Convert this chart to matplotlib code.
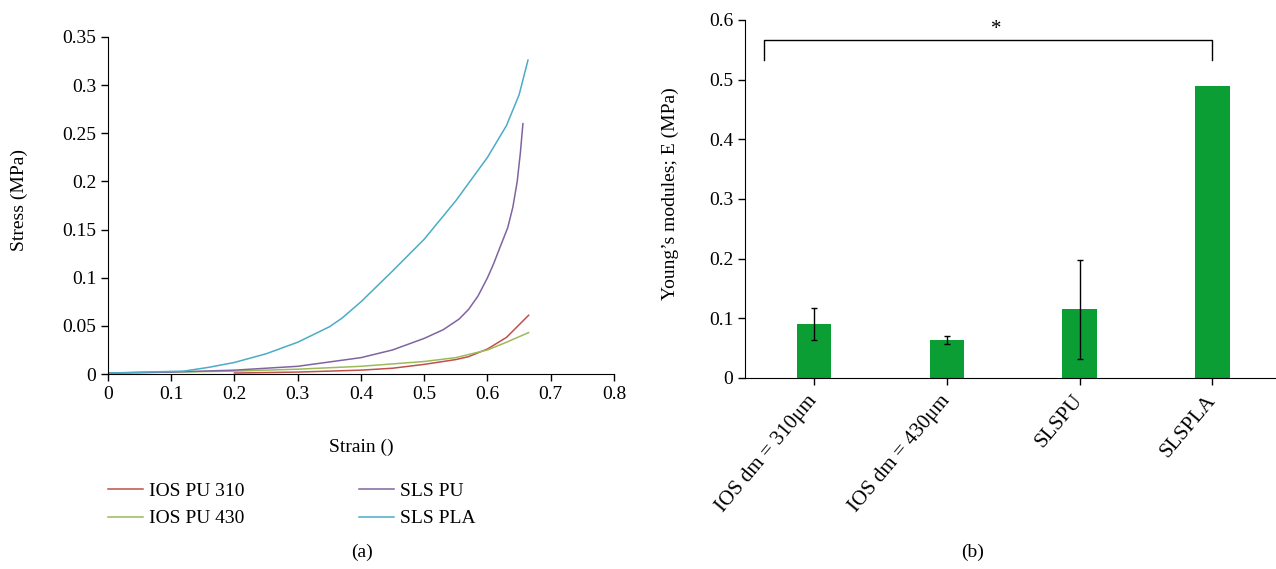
import numpy as np
import matplotlib
matplotlib.use("Agg")
import matplotlib.pyplot as plt

plt.rcParams["font.family"] = ["Liberation Serif", "DejaVu Serif"]
plt.rcParams["font.size"] = 14

# (a) stress-strain curves
pla_x = [0.0, 0.12, 0.16, 0.2, 0.25, 0.3, 0.35, 0.37, 0.4, 0.45, 0.5, 0.55, 0.6, 0.63, 0.65, 0.664]
pla_y = [0.001, 0.003, 0.007, 0.012, 0.021, 0.033, 0.049, 0.058, 0.075, 0.107, 0.140, 0.180,
         0.225, 0.258, 0.290, 0.326]
pu_x = [0.0, 0.1, 0.2, 0.3, 0.4, 0.45, 0.5, 0.53, 0.555, 0.57, 0.585, 0.6, 0.61, 0.62, 0.632, 0.64,
        0.647, 0.652, 0.656]
pu_y = [0.001, 0.002, 0.004, 0.008, 0.017, 0.025, 0.037, 0.046, 0.057, 0.067, 0.081, 0.100, 0.115,
        0.132, 0.152, 0.173, 0.200, 0.230, 0.260]
ios310_x = [0.2, 0.3, 0.4, 0.45, 0.5, 0.55, 0.57, 0.6, 0.63, 0.665]
ios310_y = [0.001, 0.002, 0.004, 0.006, 0.010, 0.015, 0.018, 0.026, 0.038, 0.061]
ios430_x = [0.0, 0.1, 0.2, 0.3, 0.4, 0.5, 0.55, 0.6, 0.63, 0.665]
ios430_y = [0.001, 0.002, 0.003, 0.005, 0.008, 0.013, 0.017, 0.025, 0.033, 0.043]

# (b) Young's modulus bars
groups = ["IOS dm = 310μm", "IOS dm = 430μm", "SLSPU", "SLSPLA"]
modulus = [0.091, 0.064, 0.115, 0.490]
modulus_err = [0.027, 0.007, 0.083, 0.0]

fig = plt.figure(figsize=(12.76, 5.69), dpi=100)

ax1 = fig.add_axes([0.0846, 0.3427, 0.3966, 0.5923])
ax1.plot(ios310_x, ios310_y, color="#C0504D", lw=1.1, label="IOS PU 310")
ax1.plot(ios430_x, ios430_y, color="#9BBB59", lw=1.1, label="IOS PU 430")
ax1.plot(pu_x, pu_y, color="#8064A2", lw=1.1, label="SLS PU")
ax1.plot(pla_x, pla_y, color="#4BACC6", lw=1.1, label="SLS PLA")
ax1.set_xlim(0, 0.8)
ax1.set_ylim(0, 0.35)
ax1.set_xticks(np.arange(0, 0.81, 0.1))
ax1.set_xticklabels(["0", "0.1", "0.2", "0.3", "0.4", "0.5", "0.6", "0.7", "0.8"])
ax1.set_yticks(np.arange(0, 0.351, 0.05))
ax1.set_yticklabels(["0", "0.05", "0.1", "0.15", "0.2", "0.25", "0.3", "0.35"])
ax1.spines[["top", "right"]].set_visible(False)
ax1.tick_params(direction="out", length=5, width=1)
ax1.set_xlabel("Strain ()", va="center")
ax1.xaxis.set_label_coords(0.5, -0.217)
ax1.set_ylabel("Stress (MPa)", va="center")
ax1.yaxis.set_label_coords(-0.175, 0.516)
h, l = ax1.get_legend_handles_labels()
ax1.legend(h, l, ncol=2, frameon=False, loc="upper left", bbox_to_anchor=(0.0, -0.322),
           borderpad=0, borderaxespad=0, handlelength=1.8, handletextpad=0.3,
           columnspacing=5.9, labelspacing=0.5, fontsize=14)
fig.text(0.284, 0.03, "(a)", ha="center", va="center")

ax2 = fig.add_axes([0.584, 0.3357, 0.416, 0.6292])
xs = np.arange(len(groups))
ax2.bar(xs, modulus, width=0.26, color="#0A9E35", zorder=2)
ax2.errorbar(xs[:3], modulus[:3], yerr=modulus_err[:3], fmt="none", ecolor="black",
             elinewidth=1, capsize=2.5, capthick=1, zorder=3)
ax2.set_xlim(-0.52, 3.48)
ax2.set_ylim(0, 0.6)
ax2.set_yticks(np.arange(0, 0.61, 0.1))
ax2.set_yticklabels(["0", "0.1", "0.2", "0.3", "0.4", "0.5", "0.6"])
ax2.set_xticks(xs)
ax2.set_xticklabels(groups, rotation=50, ha="right", va="center", rotation_mode="anchor",
                    fontsize=15)
ax2.spines[["top", "right"]].set_visible(False)
ax2.tick_params(direction="out", length=5, width=1)
ax2.tick_params(axis="x", pad=9)
ax2.set_ylabel("Young’s modules; E (MPa)", va="center")
ax2.yaxis.set_label_coords(-0.141, 0.514)
ax2.plot([-0.38, -0.38, 3.0, 3.0], [0.533, 0.566, 0.566, 0.533], color="black", lw=1)
ax2.text(1.37, 0.584, "*", ha="center", va="center", fontsize=15)
fig.text(0.762, 0.03, "(b)", ha="center", va="center")

fig.savefig("out.png", dpi=100)
